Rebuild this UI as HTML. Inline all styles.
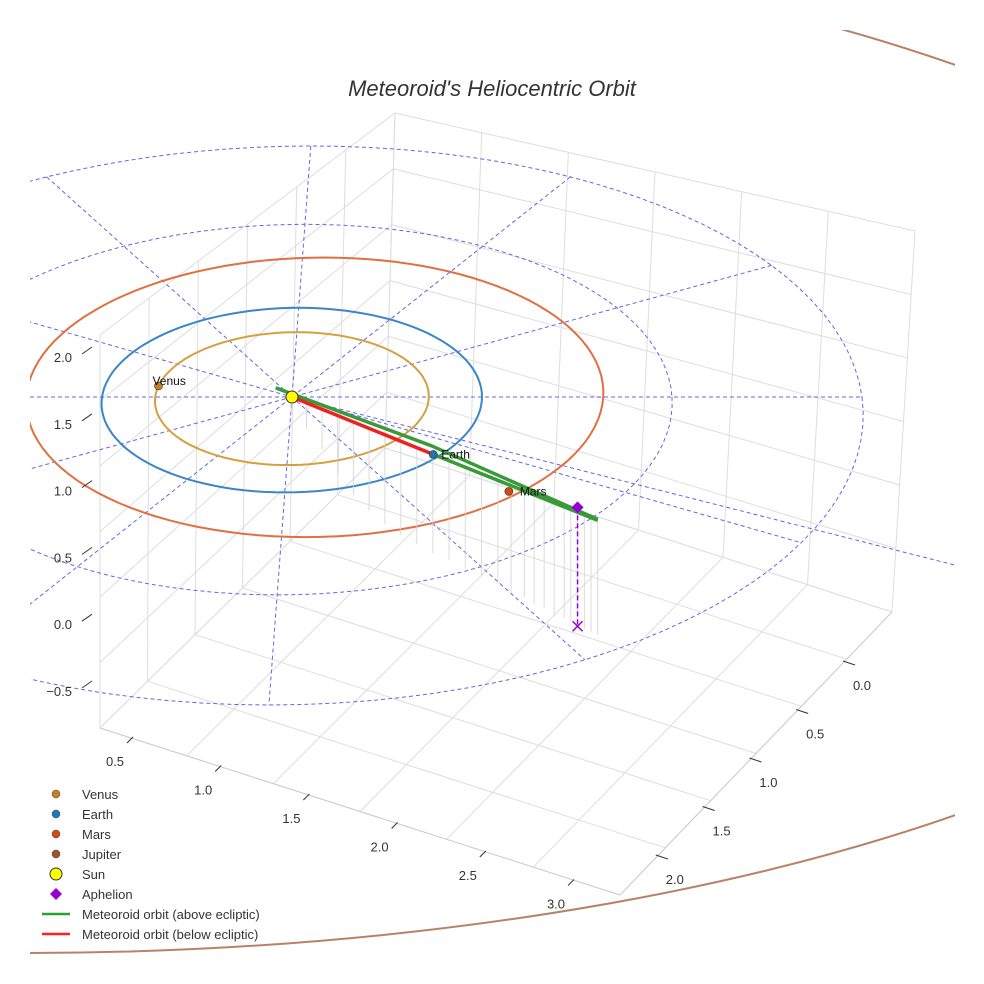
<!DOCTYPE html>
<html><head><meta charset="utf-8"><style>
body{margin:0;background:#fff}
svg{display:block;font-family:"Liberation Sans",sans-serif}
</style></head><body>
<svg id="c" width="984" height="984" viewBox="0 0 984 984">
<defs><clipPath id="clp"><rect x="30" y="30" width="925" height="925"/></clipPath></defs>
<rect width="984" height="984" fill="#fff"/>
<g id="grid"></g>
<g id="plot" clip-path="url(#clp)"></g>
<g id="ticks"></g>
<text x="492" y="96" text-anchor="middle" font-size="22" font-style="italic" fill="#333">Meteoroid's Heliocentric Orbit</text>
<g id="legend"></g>
</svg>
<script>
// ---- data ----
const orbitNames = ["Venus","Earth","Mars"];
const orbitR = [0.72, 1.0, 1.52];
const orbitCu = [0, 0, 0.12];
const orbitCv = [0, 0, -0.075];
const orbitColors = ["#d4a040","#3a86c8","#e07040"];
const planetX = [-0.71, 0.75, 1.139];
const planetY = [-0.12, 0.61, 0.99];
const planetColors = ["#c8801a","#1f77b4","#d24a14"];
const ringRadii = [1, 2, 3];
const spokeAngles = [0, 30, 60, 90, 120, 150];
const meteorStart = [-0.09, -0.10];
const meteorMid = [0.74, 0.52];
const meteorEnd = [1.586, 1.27];
const redEnd = [0.75, 0.61];
const aphelion = [1.486, 1.15];
const aphelionDrop = 2.53;
const projEnd = [3.9, 2.0];
const dropT = [0.05,0.1,0.15,0.2,0.25,0.3,0.35,0.4,0.45,0.5,0.55,0.6,0.65,0.7,0.74,0.78,0.81,0.84,0.87,0.9,0.92,0.94,0.96,0.98,1.0];
const dropLen = [0.4,0.6,0.9,1.3,1.6,1.8,1.95,2.05,2.1,2.15,2.15,2.2,2.2,2.25,2.3,2.3,2.35,2.35,2.4,2.4,2.4,2.45,2.45,2.45,2.45];
const zTicks = ["2.0","1.5","1.0","0.5","0.0","\u22120.5"];
const xTicks = ["0.5","1.0","1.5","2.0","2.5","3.0"];
const yTicks = ["0.0","0.5","1.0","1.5","2.0"];
const legendLabels = ["Venus","Earth","Mars","Jupiter","Sun","Aphelion","Meteoroid orbit (above ecliptic)","Meteoroid orbit (below ecliptic)"];
const legendColors = ["#c8801a","#1f77b4","#d24a14","#a0522d","#ffff00","#9400d3","#2ca02c","#ff2020"];
// ---- projection (ecliptic plane, perspective) ----
const SX=292, SY=397, KX=190, KY=92.2, Q=0.034, SH=0.075, KZ=47;
function proj(u,v,z=0){const f=1/(1-Q*v);const sy=SY+v*KY*f;return [SX+u*KX*f-SH*(sy-SY), sy+z*KZ];}
const NS="http://www.w3.org/2000/svg";
function mk(tag, attrs, parent){const e=document.createElementNS(NS,tag);for(const k in attrs)e.setAttribute(k,attrs[k]);parent.appendChild(e);return e;}
function ringPath(cu,cv,r){let d='';for(let i=0;i<=120;i++){const a=i/120*2*Math.PI;const p=proj(cu+r*Math.cos(a),cv+r*Math.sin(a));d+=(i?'L':'M')+p[0].toFixed(1)+','+p[1].toFixed(1);}return d+'Z';}
const grid=document.getElementById('grid'), plot=document.getElementById('plot'), ticks=document.getElementById('ticks'), leg=document.getElementById('legend');
// box grid
const F={fl:[100,728],bk:[385,448],br:[892,612],fr:[620,895],tl:[100,335],tb:[395,113],tr:[915,231]};
const lerp=(a,b,t)=>[a[0]+(b[0]-a[0])*t,a[1]+(b[1]-a[1])*t];
function gl(a,b,c){const l=mk('line',{x1:a[0],y1:a[1],x2:b[0],y2:b[1],stroke:c||'#dddddd','stroke-width':1},grid);}
for(let i=0;i<=6;i++){const t=i/6;
  gl(lerp(F.fl,F.bk,t),lerp(F.fr,F.br,t)); gl(lerp(F.fl,F.fr,t),lerp(F.bk,F.br,t));
  gl(lerp(F.fl,F.bk,t),lerp(F.tl,F.tb,t)); gl(lerp(F.bk,F.br,t),lerp(F.tb,F.tr,t));
  gl(lerp(F.fl,F.tl,t),lerp(F.bk,F.tb,t)); gl(lerp(F.bk,F.tb,t),lerp(F.br,F.tr,t));}
gl(F.fl,F.fr,'#cccccc');gl(F.fr,F.br,'#cccccc');
// jupiter orbit
let e=mk('ellipse',{cx:24,cy:440,rx:1365,ry:513,fill:'none',stroke:'#b8826a','stroke-width':2},plot);

// dashed rings and spokes
ringRadii.forEach(r=>{const el=mk('path',{d:ringPath(0,0,r),fill:'none',stroke:'#6666dd','stroke-width':1,'stroke-dasharray':'4 3'},plot);
  });
spokeAngles.forEach(a=>{const R=3,c=Math.cos(a*Math.PI/180),s=Math.sin(a*Math.PI/180);
  const p1=proj(-c*R,-s*R),p2=proj(c*R,s*R);
  const el=mk('line',{x1:p1[0],y1:p1[1],x2:p2[0],y2:p2[1],stroke:'#6666dd','stroke-width':1,'stroke-dasharray':'4 3'},plot);
  });
// projected meteoroid orbit line on ecliptic
{const p1=proj(0,0),p2=proj(projEnd[0],projEnd[1]);
 const el=mk('line',{x1:p1[0],y1:p1[1],x2:p2[0],y2:p2[1],stroke:'#6666dd','stroke-width':1,'stroke-dasharray':'4 3'},plot);
 }
// planet orbits
orbitNames.forEach((n,i)=>{const el=mk('path',{d:ringPath(orbitCu[i],orbitCv[i],orbitR[i]),fill:'none',stroke:orbitColors[i],'stroke-width':2},plot);
  });
// drop lines
dropT.forEach((t,i)=>{const x=meteorStart[0]+(meteorEnd[0]-meteorStart[0])*t,y=meteorStart[1]+(meteorEnd[1]-meteorStart[1])*t;
  const a=proj(x,y),b=proj(x,y,dropLen[i]);
  const el=mk('line',{x1:a[0],y1:a[1],x2:b[0],y2:b[1],stroke:'#d2d2d2','stroke-width':0.8},plot);
  });
// meteoroid
const ms=proj(meteorStart[0],meteorStart[1]),mm=proj(meteorMid[0],meteorMid[1]),me=proj(meteorEnd[0],meteorEnd[1]),re=proj(redEnd[0],redEnd[1]),so=proj(0,0);
let g1=mk('polyline',{points:`${ms[0]},${ms[1]} ${mm[0]},${mm[1]} ${me[0]},${me[1]}`,fill:'none',stroke:'#3a9a3a','stroke-width':3.5,'stroke-linejoin':'round'},plot);

let g2=mk('line',{x1:re[0],y1:re[1],x2:me[0],y2:me[1]+1,stroke:'#3a9a3a','stroke-width':3.5},plot);

let r1=mk('line',{x1:so[0],y1:so[1],x2:re[0],y2:re[1],stroke:'#ee2020','stroke-width':3.5},plot);

// aphelion
const ap=proj(aphelion[0],aphelion[1]),ab=proj(aphelion[0],aphelion[1],aphelionDrop);
const ax=ap[0],ay=ap[1],bx=ab[0],by=ab[1];
let ad=mk('line',{x1:ax,y1:ay,x2:bx,y2:by,stroke:'#9400d3','stroke-width':1.5,'stroke-dasharray':'5 3'},plot);

let xm=mk('path',{d:`M${bx-5},${by-5}L${bx+5},${by+5}M${bx+5},${by-5}L${bx-5},${by+5}`,stroke:'#9400d3','stroke-width':1.5},plot);

let dm=mk('path',{d:`M${ax},${ay-6}L${ax+6},${ay}L${ax},${ay+6}L${ax-6},${ay}Z`,fill:'#9400d3'},plot);

// sun
let sn=mk('circle',{cx:so[0],cy:so[1],r:6,fill:'#ffff00',stroke:'#333','stroke-width':1},plot);

// planets
orbitNames.forEach((n,i)=>{const p=proj(planetX[i],planetY[i]);const x=p[0],y=p[1];
  const c=mk('circle',{cx:x,cy:y,r:4,fill:planetColors[i],stroke:'#333','stroke-width':0.6},plot);
  
  const t=mk('text',{x:i==0?x-6:x+(i==2?11:8),y:i==0?y-1:y+4,'font-size':12,fill:'#111'},plot);t.textContent=n;
  });
// ticks
zTicks.forEach((s,i)=>{const y=357+i*66.8;
  const t=mk('text',{x:72,y:y+5,'text-anchor':'end','font-size':13,fill:'#333'},ticks);t.textContent=s;
  
  const l=mk('line',{x1:82,y1:y-3,x2:92,y2:y-10,stroke:'#333'},ticks);});
xTicks.forEach((s,i)=>{const x=115+i*88.2,y=766+i*28.5;
  const t=mk('text',{x:x,y:y,'text-anchor':'middle','font-size':13,fill:'#333'},ticks);t.textContent=s;
  
  const l=mk('line',{x1:x+12,y1:y-23,x2:x+18,y2:y-29,stroke:'#333'},ticks);});
yTicks.forEach((s,i)=>{const x=862-i*46.8,y=690+i*48.5;
  const t=mk('text',{x:x,y:y,'text-anchor':'middle','font-size':13,fill:'#333'},ticks);t.textContent=s;
  
  const l=mk('line',{x1:x-19,y1:y-29,x2:x-7,y2:y-25,stroke:'#333'},ticks);});
// legend
legendLabels.forEach((s,i)=>{const y=794+i*20,cx=56;let m;
  if(i<4)m=mk('circle',{cx:cx,cy:y,r:4,fill:legendColors[i],stroke:'#444','stroke-width':0.5},leg);
  else if(i==4)m=mk('circle',{cx:cx,cy:y,r:6,fill:legendColors[i],stroke:'#333','stroke-width':1},leg);
  else if(i==5)m=mk('path',{d:`M${cx},${y-6}L${cx+6},${y}L${cx},${y+6}L${cx-6},${y}Z`,fill:legendColors[i]},leg);
  else m=mk('line',{x1:42,y1:y,x2:70,y2:y,stroke:legendColors[i],'stroke-width':2.5},leg);
  
  const t=mk('text',{x:82,y:y+5,'font-size':13,fill:'#333'},leg);t.textContent=s;
  });
</script>
</body></html>
